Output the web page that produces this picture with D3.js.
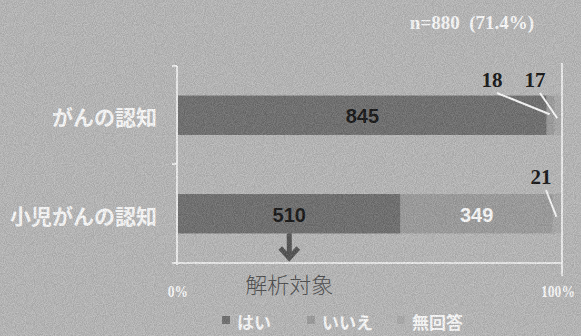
<!DOCTYPE html>
<meta charset="utf-8">
<head>
<style>
body { margin: 0; background: #bcbcbc; }
svg { display: block; }
.ylab { font-family: "Noto Sans CJK JP", sans-serif; font-weight: 700; fill: #fff; font-size: 21px; }
.serif { font-family: "Liberation Serif", "DejaVu Serif", serif; font-weight: 700; white-space: pre; }
.val { font-family: "Liberation Sans", Arial, sans-serif; font-weight: 700; font-size: 20px; }
.leg { font-family: "Noto Sans CJK JP", sans-serif; font-weight: 700; fill: #fff; font-size: 17px; }
</style>
</head>
<body>
<svg width="581" height="336"></svg>
<script src="https://cdn.jsdelivr.net/npm/d3@7"></script>
<script>
// data
var categories = ["がんの認知", "小児がんの認知"];
var seriesNames = ["はい", "いいえ", "無回答"];
var hai = [845, 510];
var iie = [18, 349];
var mukaito = [17, 21];
var total = 880;
var tickLabels = ["0%", "100%"];
var colors = ["#6e6e6e", "#9d9d9d", "#acacac"];

var svg = d3.select("svg"),
  width = +svg.attr("width"),
  height = +svg.attr("height");

// scanned-paper grain, light and dark around the mean
var defs = svg.append("defs");
var f = defs.append("filter").attr("id", "noise")
  .attr("x", 0).attr("y", 0).attr("width", "100%").attr("height", "100%")
  .attr("color-interpolation-filters", "sRGB");
f.append("feTurbulence").attr("type", "fractalNoise").attr("baseFrequency", 1.1).attr("numOctaves", 1).attr("seed", 3).attr("result", "t");
f.append("feColorMatrix").attr("in", "t").attr("type", "matrix")
  .attr("values", "2 0 0 0 -0.5  2 0 0 0 -0.5  2 0 0 0 -0.5  0 0 0 0 0.12");

svg.append("rect").attr("width", width).attr("height", height).attr("fill", "#bababa");

var x = d3.scaleLinear().domain([0, 1]).range([178, 562]);
var y = d3.scaleBand().domain(categories).range([66, 263]).paddingInner(0.6).paddingOuter(0.3);

var rows = categories.map(function(c, i) {
  var vals = [hai[i], iie[i], mukaito[i]];
  var acc = 0;
  return vals.map(function(v, k) {
    var s = { cat: c, k: k, v: v, x0: acc / total, x1: (acc + v) / total };
    acc += v;
    return s;
  });
});
var segs = d3.merge(rows);

svg.append("g").selectAll("rect")
  .data(segs)
  .enter().append("rect")
  .attr("x", function(d) { return x(d.x0); })
  .attr("y", function(d) { return y(d.cat); })
  .attr("width", function(d) { return x(d.x1) - x(d.x0); })
  .attr("height", y.bandwidth())
  .attr("fill", function(d) { return colors[d.k]; });

// frame
var frame = svg.append("g").attr("stroke", "#fff").attr("stroke-width", 1.6).attr("fill", "none");
frame.append("line").attr("x1", 177).attr("x2", 177).attr("y1", 66).attr("y2", 265);
frame.append("line").attr("x1", 172).attr("x2", 177).attr("y1", 66).attr("y2", 66);
frame.append("line").attr("x1", 172).attr("x2", 177).attr("y1", 164).attr("y2", 164);
frame.append("line").attr("x1", 172).attr("x2", x(1)).attr("y1", 263).attr("y2", 263);
frame.append("line").attr("x1", x(1)).attr("x2", x(1)).attr("y1", 63).attr("y2", 276);

// category labels
svg.append("g").selectAll("text")
  .data(categories)
  .enter().append("text")
  .attr("class", "ylab")
  .attr("x", 157)
  .attr("y", function(d) { return y(d) + y.bandwidth() / 2 + 1; })
  .attr("text-anchor", "end")
  .attr("dominant-baseline", "central")
  .text(function(d) { return d; });

// big inner labels
var inner = segs.filter(function(d) { return d.v > 100; });
svg.append("g").selectAll("text")
  .data(inner)
  .enter().append("text")
  .attr("class", "val")
  .attr("x", function(d) { return x((d.x0 + d.x1) / 2); })
  .attr("y", function(d) { return y(d.cat) + y.bandwidth() / 2 + 1; })
  .attr("text-anchor", "middle")
  .attr("dominant-baseline", "central")
  .attr("fill", function(d) { return d.k === 0 ? "#111" : "#fff"; })
  .text(function(d) { return d.v; });

// small outside labels with leader lines
var small = segs.filter(function(d) { return d.v <= 100; });
var labelPos = [[492, 80], [535, 80], [541, 177]];
small.forEach(function(d, i) {
  var p = labelPos[i];
  var cx = x((d.x0 + d.x1) / 2) - 1;
  var cy = y(d.cat) + y.bandwidth() / 2 + (i === 0 ? -1 : 3);
  svg.append("line")
    .attr("x1", p[0] + 5).attr("y1", p[1] + 13)
    .attr("x2", cx).attr("y2", cy)
    .attr("stroke", "#fff").attr("stroke-width", 2);
  svg.append("text")
    .attr("class", "serif")
    .attr("x", p[0]).attr("y", p[1])
    .attr("text-anchor", "middle")
    .attr("dominant-baseline", "central")
    .attr("font-size", 21)
    .attr("fill", "#111")
    .text(d.v);
});

// x tick labels
svg.append("g").selectAll("text")
  .data(tickLabels)
  .enter().append("text")
  .attr("class", "serif")
  .attr("x", function(d, i) { return i === 0 ? x(0) : x(1) - 4; })
  .attr("y", 291)
  .attr("text-anchor", "middle")
  .attr("dominant-baseline", "central")
  .attr("font-size", 17)
  .attr("fill", "#fff")
  .attr("transform", function(d, i) { var cx = i === 0 ? x(0) : x(1) - 4; return "translate(" + cx + ",0) scale(0.8,1) translate(" + (-cx) + ",0)"; })
  .text(function(d) { return d; });

// n label
svg.append("text")
  .attr("class", "serif")
  .attr("x", 472).attr("y", 22)
  .attr("text-anchor", "middle")
  .attr("dominant-baseline", "central")
  .attr("font-size", 19)
  .attr("fill", "#fff")
  .text("n=" + total + "  (71.4%)");

// arrow to analysis target
var ax = x(hai[1] / total / 2);
var arrow = svg.append("g").attr("stroke", "#505050").attr("stroke-width", 5).attr("fill", "none");
arrow.append("line").attr("x1", ax).attr("x2", ax).attr("y1", y(categories[1]) + y.bandwidth()).attr("y2", 257);
arrow.append("polyline").attr("points", [[ax - 9, 248], [ax, 258], [ax + 9, 248]].join(" "));
svg.append("text")
  .attr("x", ax).attr("y", 283)
  .attr("text-anchor", "middle")
  .attr("dominant-baseline", "central")
  .attr("font-family", "'Noto Sans CJK JP', sans-serif")
  .attr("font-weight", 300)
  .attr("font-size", 22)
  .attr("fill", "#4a4a4a")
  .text("解析対象");

// legend
var legX = [222, 307, 397];
var leg = svg.append("g").selectAll("g")
  .data(seriesNames)
  .enter().append("g")
  .attr("transform", function(d, i) { return "translate(" + legX[i] + ",320)"; });
leg.append("rect").attr("x", 0).attr("y", -4).attr("width", 8).attr("height", 8)
  .attr("fill", function(d, i) { return colors[i]; });
leg.append("text").attr("class", "leg").attr("x", 15).attr("y", 1)
  .attr("dominant-baseline", "central")
  .text(function(d) { return d; });

svg.append("rect").attr("width", width).attr("height", height).attr("filter", "url(#noise)").attr("pointer-events", "none");
</script>
</body>
